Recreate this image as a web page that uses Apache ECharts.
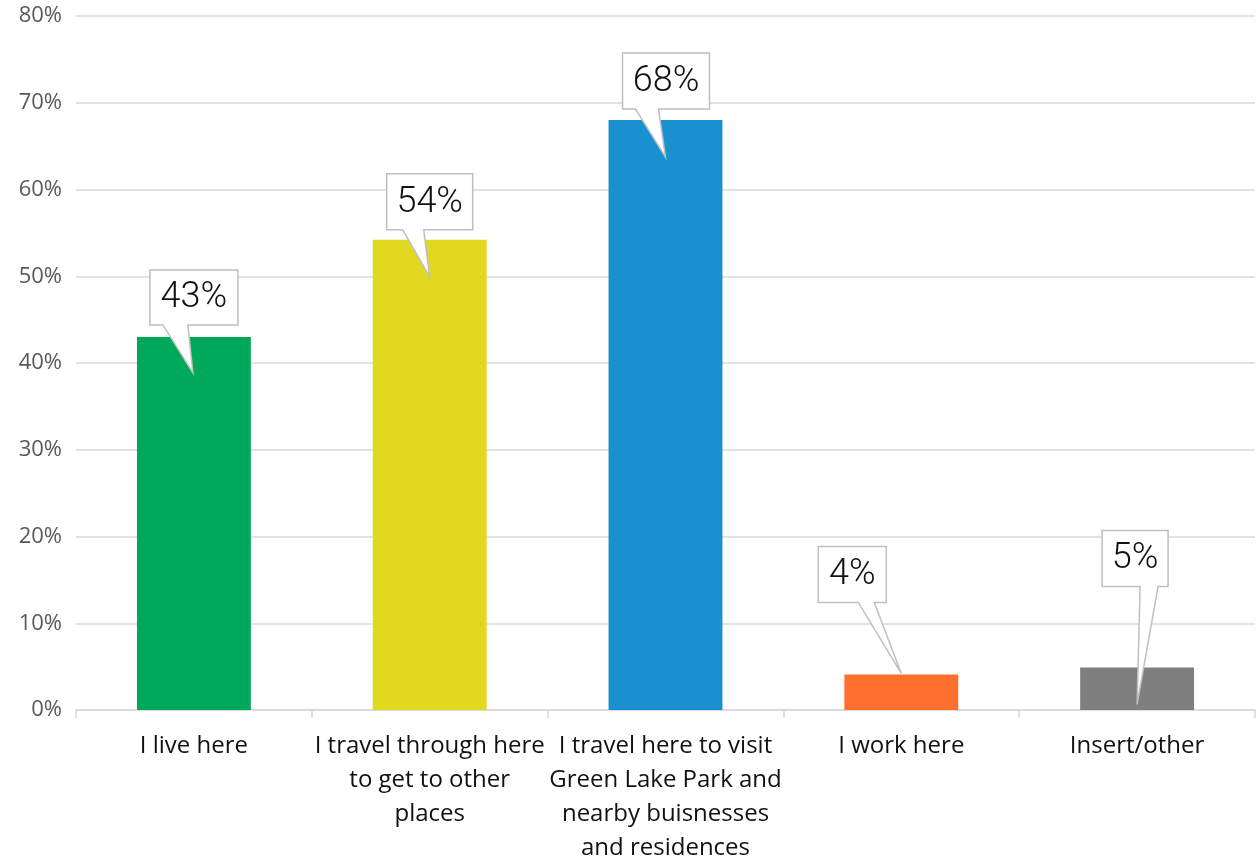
<!DOCTYPE html>
<html>
<head>
<meta charset="utf-8">
<script src="https://cdn.jsdelivr.net/npm/echarts@6/dist/echarts.min.js"></script>
<style>html,body{margin:0;padding:0;background:#fff;}#c{width:1258px;height:865px;}</style>
</head>
<body>
<div id="c"></div>
<script>
var categories = ['I live here', 'I travel through here\nto get to other\nplaces', 'I travel here to visit\nGreen Lake Park and\nnearby buisnesses\nand residences', 'I work here', 'Insert/other'];
var values = [43.0, 54.2, 68.0, 4.1, 4.9];
var valueLabels = ['43%', '54%', '68%', '4%', '5%'];
var barColors = ['#00a85a', '#e1d920', '#1991d0', '#ff6f2d', '#7f7f7f'];
var yTicks = [0, 10, 20, 30, 40, 50, 60, 70, 80];

// callout geometry (px, relative to bar top centre): box x0,x1,y0,y1, wedge base wx0,wx1, tip tx,ty
var calloutGeom = [
  [-44, 44, -67, -12, -31, -6, -1, 36],
  [-43, 43, -66, -10, -27, -6, 0, 37],
  [-43, 44, -67, -11, -30, -7, 0, 37],
  [-83, -15, -128, -72, -43, -27, 0, -1],
  [-35, 31, -137, -81, 3, 21, 0, 37]
];

var chart = echarts.init(document.getElementById('c'), null, {renderer: 'canvas'});
chart.setOption({
  animation: false,
  grid: {left: 76, right: 3, top: 16, bottom: 155, containLabel: false},
  xAxis: {
    type: 'category',
    data: categories,
    axisLine: {lineStyle: {color: '#d9d9d9', width: 1.5}},
    axisTick: {show: true, length: 8, lineStyle: {color: '#d9d9d9', width: 1.5}},
    axisLabel: {
      interval: 0,
      margin: 19,
      fontFamily: 'Open Sans',
      fontSize: 24,
      lineHeight: 34,
      color: '#111',
      align: 'center'
    }
  },
  yAxis: {
    type: 'value',
    min: yTicks[0],
    max: yTicks[yTicks.length - 1],
    interval: 10,
    axisLine: {show: false},
    axisTick: {show: false},
    splitLine: {lineStyle: {color: '#d9d9d9', width: 1.5}},
    axisLabel: {
      formatter: '{value}%',
      margin: 14,
      fontFamily: 'Open Sans',
      fontSize: 22,
      color: '#595959'
    }
  },
  series: [
    {
      type: 'bar',
      barWidth: '48.3%',
      data: values.map(function (v, i) { return {value: v, itemStyle: {color: barColors[i]}}; }),
      z: 2
    },
    {
      type: 'custom',
      z: 5,
      data: values.map(function (v, i) { return [i, v]; }),
      renderItem: function (params, api) {
        var i = api.value(0);
        var p = api.coord([i, api.value(1)]);
        var g = calloutGeom[i];
        var cx = p[0], cy = p[1];
        var x0 = cx + g[0], x1 = cx + g[1], y0 = cy + g[2], y1 = cy + g[3];
        var pts = [[x0, y0], [x1, y0], [x1, y1], [cx + g[5], y1], [cx + g[6], cy + g[7]], [cx + g[4], y1], [x0, y1]];
        return {
          type: 'group',
          children: [
            {type: 'polygon', shape: {points: pts}, style: {fill: '#fff', stroke: '#bfbfbf', lineWidth: 1.5}},
            {type: 'text', style: {
              x: (x0 + x1) / 2, y: (y0 + y1) / 2 + 1,
              text: valueLabels[i], align: 'center', verticalAlign: 'middle',
              fontFamily: 'Roboto', fontWeight: 300, fontSize: 36, fill: '#111'
            }}
          ]
        };
      }
    }
  ]
});
</script>
</body>
</html>
